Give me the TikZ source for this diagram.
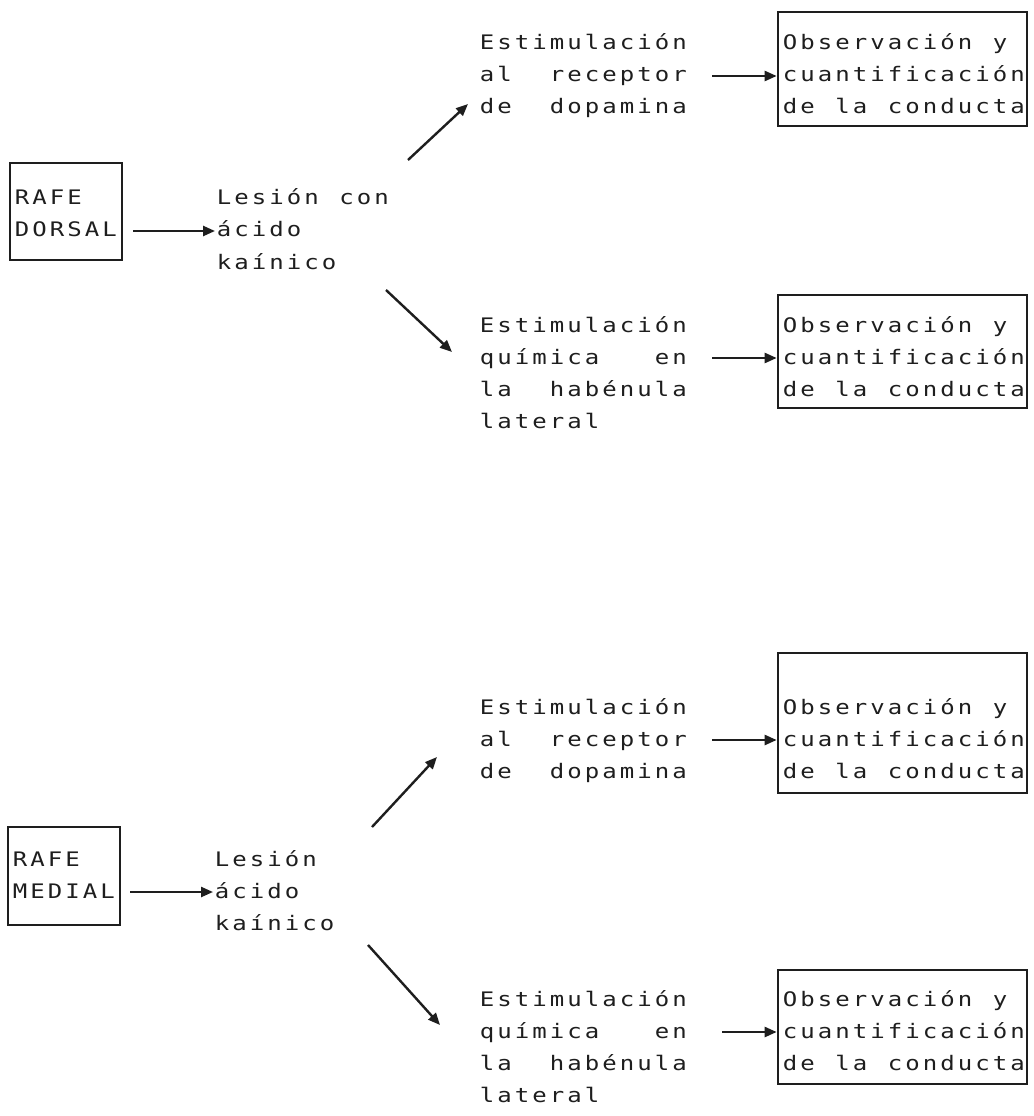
\documentclass[tikz,border=0pt]{standalone}
\usepackage{fontspec}
\newfontfamily\dmfont[FakeStretch=1.2]{DejaVu Sans Mono}
\usetikzlibrary{arrows.meta,fit}
\newlength\dmw
\setlength\dmw{13.125pt}
\ExplSyntaxOn
\NewDocumentCommand\dm{m}
  {
    \str_map_inline:nn {#1}
      {
        \str_if_eq:nnTF {##1} {_}
          { \hspace*{\dmw} }
          { \makebox[\dmw][c]{##1} }
      }
  }
\ExplSyntaxOff
\definecolor{ink}{HTML}{1E1E1E}
\begin{document}
\begin{tikzpicture}[x=0.75pt,y=-0.75pt,
  txt/.style={font=\dmfont\fontsize{15pt}{18pt}\selectfont, text=ink, inner sep=0pt, anchor=base west},
  box/.style={draw=ink, line width=2pt, inner sep=0pt},
  arr/.style={draw=ink, line width=1.8pt, -{Triangle[length=9pt,width=7.5pt]}}]
\fill[white] (0,0) rectangle (1033,1116);
\useasboundingbox (0,0) rectangle (1033,1116);

% ---------- upper half ----------
\node[box, fit={(10,163) (122,260)}] (rd) {};
\node[txt] (rd1) at (13,205) {\dm{RAFE}};
\node[txt] (rd2) at (13,237) {\dm{DORSAL}};

\node[txt] (l1a) at (215,205) {\dm{Lesión_con}};
\node[txt] (l1b) at (215,237) {\dm{ácido}};
\node[txt] (l1c) at (215,269) {\dm{kaínico}};

\node[txt] (e1a) at (478,50) {\dm{Estimulación}};
\node[txt] (e1b) at (478,82) {\dm{al__receptor}};
\node[txt] (e1c) at (478,114) {\dm{de__dopamina}};

\node[box, fit={(778,12) (1027,126)}] (ob1) {};
\node[txt] (o1a) at (781,50) {\dm{Observación_y}};
\node[txt] (o1b) at (781,82) {\dm{cuantificación}};
\node[txt] (o1c) at (781,114) {\dm{de_la_conducta}};

\node[txt] (e2a) at (478,332) {\dm{Estimulación}};
\node[txt] (e2b) at (478,364) {\dm{química___en}};
\node[txt] (e2c) at (478,396) {\dm{la__habénula}};
\node[txt] (e2d) at (478,428) {\dm{lateral}};

\node[box, fit={(778,295) (1027,408)}] (ob2) {};
\node[txt] (o2a) at (781,332) {\dm{Observación_y}};
\node[txt] (o2b) at (781,364) {\dm{cuantificación}};
\node[txt] (o2c) at (781,396) {\dm{de_la_conducta}};

\coordinate (h1s) at (133,231);
\coordinate (u1s) at (408,160);
\coordinate (u1e) at (468,104);
\coordinate (d1s) at (386,290);
\coordinate (d1e) at (452,352);
\coordinate (r1s) at (712,76);
\coordinate (r2s) at (712,358);

\draw[arr] (h1s) -- (h1s -| l1b.west);
\draw[arr] (u1s) -- (u1e);
\draw[arr] (d1s) -- (d1e);
\draw[arr] (r1s) -- (r1s -| ob1.west);
\draw[arr] (r2s) -- (r2s -| ob2.west);

% ---------- lower half ----------
\node[txt] (e3a) at (478,714) {\dm{Estimulación}};
\node[txt] (e3b) at (478,746) {\dm{al__receptor}};
\node[txt] (e3c) at (478,778) {\dm{de__dopamina}};

\node[box, fit={(778,653) (1027,793)}] (ob3) {};
\node[txt] (o3a) at (781,714) {\dm{Observación_y}};
\node[txt] (o3b) at (781,746) {\dm{cuantificación}};
\node[txt] (o3c) at (781,778) {\dm{de_la_conducta}};

\node[box, fit={(8,827) (120,925)}] (rm) {};
\node[txt] (rm1) at (11,866) {\dm{RAFE}};
\node[txt] (rm2) at (11,898) {\dm{MEDIAL}};

\node[txt] (l2a) at (213,866) {\dm{Lesión}};
\node[txt] (l2b) at (213,898) {\dm{ácido}};
\node[txt] (l2c) at (213,930) {\dm{kaínico}};

\node[txt] (e4a) at (478,1006) {\dm{Estimulación}};
\node[txt] (e4b) at (478,1038) {\dm{química___en}};
\node[txt] (e4c) at (478,1070) {\dm{la__habénula}};
\node[txt] (e4d) at (478,1102) {\dm{lateral}};

\node[box, fit={(778,970) (1027,1084)}] (ob4) {};
\node[txt] (o4a) at (781,1006) {\dm{Observación_y}};
\node[txt] (o4b) at (781,1038) {\dm{cuantificación}};
\node[txt] (o4c) at (781,1070) {\dm{de_la_conducta}};

\coordinate (h2s) at (130,892);
\coordinate (u2s) at (372,827);
\coordinate (u2e) at (437,757);
\coordinate (d2s) at (368,945);
\coordinate (d2e) at (440,1025);
\coordinate (r3s) at (712,740);
\coordinate (r4s) at (722,1032);

\draw[arr] (h2s) -- (h2s -| l2b.west);
\draw[arr] (u2s) -- (u2e);
\draw[arr] (d2s) -- (d2e);
\draw[arr] (r3s) -- (r3s -| ob3.west);
\draw[arr] (r4s) -- (r4s -| ob4.west);
\end{tikzpicture}
\end{document}
